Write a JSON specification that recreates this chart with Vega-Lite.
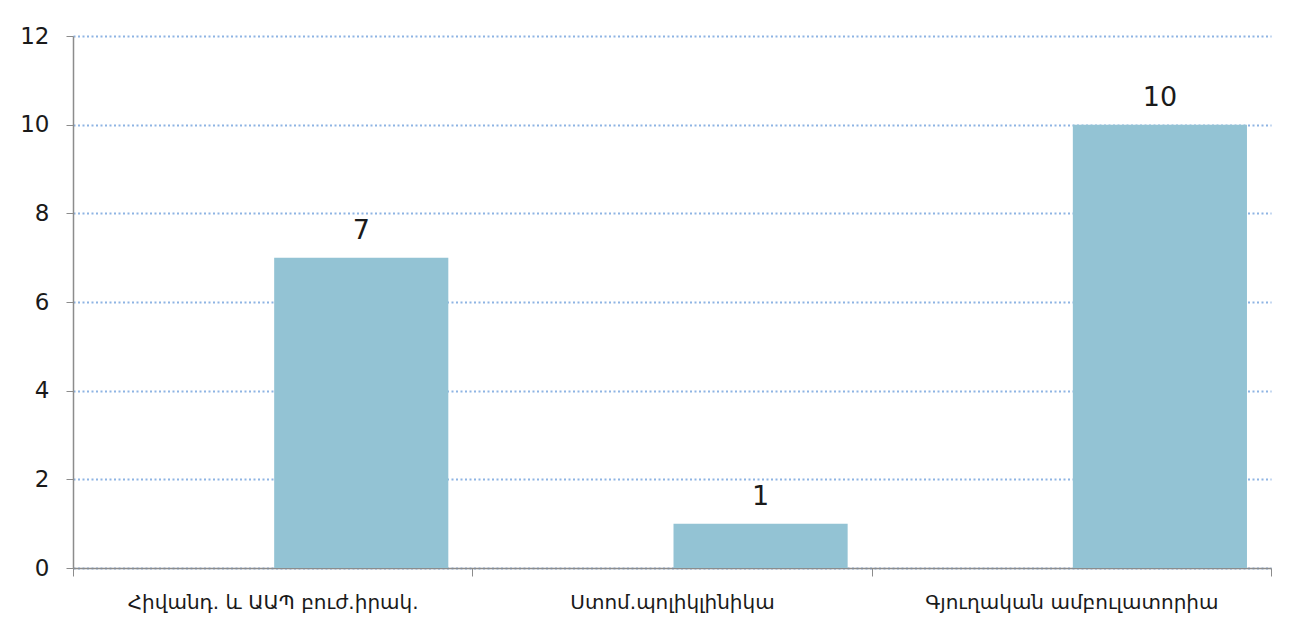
{
  "$schema": "https://vega.github.io/schema/vega-lite/v6.json",
  "width": 1198,
  "height": 532,
  "autosize": {"type": "none"},
  "padding": {"left": 73, "top": 36, "right": 28, "bottom": 66},
  "background": "white",
  "data": {
    "values": [
      {"category": "Հիվանդ. և ԱԱՊ բուժ.իրակ.", "series": "B", "value": 7},
      {"category": "Ստոմ.պոլիկլինիկա", "series": "B", "value": 1},
      {"category": "Գյուղական ամբուլատորիա", "series": "B", "value": 10}
    ]
  },
  "config": {
    "view": {"stroke": null},
    "font": "DejaVu Sans"
  },
  "encoding": {
    "x": {
      "field": "category",
      "type": "nominal",
      "sort": null,
      "scale": {"paddingInner": 0, "paddingOuter": 0},
      "axis": {
        "title": null,
        "labelAngle": 0,
        "labelFont": "DejaVu Sans",
        "labelFontSize": 20,
        "labelLimit": 0,
        "labelColor": "#1a1a1a",
        "labelPadding": 16,
        "tickBand": "extent",
        "tickSize": 8,
        "tickColor": "#8c8c8c",
        "domainColor": "#8c8c8c",
        "domainWidth": 1.5,
        "grid": false
      }
    },
    "xOffset": {
      "field": "series",
      "type": "nominal",
      "scale": {"domain": ["A", "B"], "paddingOuter": 0.1356, "paddingInner": 0.017}
    },
    "y": {
      "field": "value",
      "type": "quantitative",
      "scale": {"domain": [0, 12], "nice": false},
      "axis": {
        "title": null,
        "values": [0, 2, 4, 6, 8, 10, 12],
        "labelFont": "DejaVu Sans",
        "labelFontSize": 23,
        "labelColor": "#1a1a1a",
        "labelPadding": 17,
        "tickSize": 7,
        "tickColor": "#8c8c8c",
        "domainColor": "#8c8c8c",
        "domainWidth": 1.5,
        "grid": true,
        "gridColor": "#8eb4e3",
        "gridDash": [2, 2.5],
        "gridWidth": 2
      }
    }
  },
  "layer": [
    {
      "mark": {"type": "bar", "color": "#93c3d4"}
    },
    {
      "mark": {"type": "text", "baseline": "alphabetic", "dy": -19, "fontSize": 27, "color": "#1a1a1a", "font": "DejaVu Sans"},
      "encoding": {"text": {"field": "value", "type": "quantitative"}}
    }
  ]
}
